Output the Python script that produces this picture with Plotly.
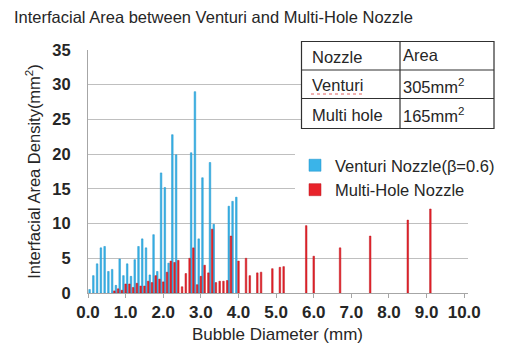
import plotly.graph_objects as go

# Bin diameters (mm) and densities
venturi_d = [0.0, 0.1, 0.2, 0.3, 0.4, 0.5, 0.6, 0.7, 0.8, 0.9,
             1.0, 1.1, 1.2, 1.3, 1.4, 1.5, 1.6, 1.7, 1.8, 1.9,
             2.0, 2.1, 2.2, 2.3, 2.7, 2.8, 2.9, 3.0, 3.2, 3.3,
             3.7, 3.8, 3.9]
venturi_v = [0.5, 2.5, 4.2, 6.5, 6.7, 3.1, 3.4, 1.1, 4.9, 2.5,
             4.2, 2.4, 4.8, 6.7, 7.8, 6.5, 2.6, 8.4, 3.1, 17.3,
             15.2, 4.3, 22.8, 19.9, 20.2, 29.0, 7.8, 16.6, 18.8, 9.9,
             12.5, 13.2, 13.8]

multi_d = [0.7, 0.8, 0.9, 1.0, 1.1, 1.2, 1.3, 1.4, 1.5, 1.6,
           1.7, 1.8, 1.9, 2.0, 2.1, 2.2, 2.3, 2.4, 2.5, 2.6,
           2.7, 2.8, 2.9, 3.0, 3.1, 3.2, 3.3, 3.4, 3.5, 3.6,
           3.7, 3.8, 4.0, 4.2, 4.3, 4.5, 4.6, 4.9, 5.1, 5.2,
           5.8, 6.0, 6.7, 7.5, 8.5, 9.1]
multi_v = [0.3, 0.6, 0.4, 1.3, 1.3, 0.8, 1.4, 1.0, 1.0, 1.7,
           1.5, 2.5, 2.0, 1.6, 3.0, 4.6, 4.4, 4.7, 0.9, 2.8,
           5.0, 6.5, 1.2, 2.4, 4.0, 2.9, 9.2, 1.5, 1.7, 1.7,
           1.8, 8.2, 4.6, 5.0, 2.5, 2.9, 3.0, 3.5, 3.7, 3.8,
           9.7, 5.3, 6.5, 8.2, 10.5, 12.1]

x_ticks = [0, 1, 2, 3, 4, 5, 6, 7, 8, 9, 10]
x_tick_labels = ["0.0", "1.0", "2.0", "3.0", "4.0", "5.0", "6.0", "7.0", "8.0", "9.0", "10.0"]
y_ticks = [0, 5, 10, 15, 20, 25, 30, 35]

table_rows = [["Nozzle", "Area"],
              ["Venturi", "305mm<sup>2</sup>"],
              ["Multi hole", "165mm<sup>2</sup>"]]

FONT = "Liberation Sans, Arial, sans-serif"
TXT = "#262626"

fig = go.Figure()
fig.add_trace(go.Bar(
    x=venturi_d, y=venturi_v, name="Venturi Nozzle(β=0.6)",
    width=0.042, offset=0.021,
    marker=dict(color="#3AB4E9", line=dict(color="#1E93C8", width=0.5)),
))
fig.add_trace(go.Bar(
    x=multi_d, y=multi_v, name="Multi-Hole Nozzle",
    width=0.042, offset=-0.021,
    marker=dict(color="#E8232B", line=dict(color="#B8141C", width=0.5)),
))

W, H, L, T = 380, 243, 88, 50
def px(xp):
    return (xp - L) / W
def py(yp):
    return 1 - (yp - T) / H

fig.update_layout(
    width=509, height=344,
    margin=dict(l=88, r=41, t=50, b=51, autoexpand=False),
    paper_bgcolor="white", plot_bgcolor="white",
    barmode="overlay",
    font=dict(family=FONT, color=TXT),
    showlegend=True,
    legend=dict(
        x=px(295), y=py(148), xanchor="left", yanchor="top",
        bgcolor="white", font=dict(size=16.5, color=TXT),
        tracegroupgap=0, itemwidth=30,
    ),
    xaxis=dict(
        range=[0, 10.1], tickvals=x_ticks, ticktext=x_tick_labels,
        showgrid=False, zeroline=False, automargin=False,
        showline=True, linecolor="#A6A6A6", linewidth=1,
        ticks="outside", ticklen=4, tickcolor="#A6A6A6",
        ticklabelstandoff=0,
        tickfont=dict(size=17, family=FONT, color=TXT, weight="bold"),
    ),
    yaxis=dict(
        range=[0, 35], tickvals=y_ticks,
        showgrid=True, gridcolor="#BFBFBF", gridwidth=1, automargin=False,
        zeroline=False, showline=True, linecolor="#A6A6A6", linewidth=1,
        ticks="", ticklabelstandoff=13,
        tickfont=dict(size=16.5, family=FONT, color=TXT, weight="bold"),
        title=dict(text="Interfacial Area Density(mm<sup>2</sup>)", font=dict(size=16.5, color=TXT), standoff=7),
    ),
)

# Title
fig.add_annotation(
    text="Interfacial Area between Venturi and Multi-Hole Nozzle",
    xref="paper", yref="paper", x=-0.2, y=1.0, xanchor="left", yanchor="middle",
    yshift=33, showarrow=False, font=dict(size=16.5, color=TXT),
)
# X axis title
fig.add_annotation(
    text="Bubble Diameter (mm)",
    xref="paper", yref="paper", x=px(277), y=py(334), xanchor="center", yanchor="middle",
    showarrow=False, font=dict(size=17, color=TXT),
)

# Info table
tx0, tx1, tcol = 301.5, 494, 400
row_y = [41.5, 70, 98.5, 128.5]
fig.add_shape(type="rect", xref="paper", yref="paper",
              x0=px(tx0), x1=px(tx1), y0=py(row_y[-1]), y1=py(row_y[0]),
              fillcolor="white", line=dict(color="#303030", width=1.2), layer="above")
for yy in row_y[1:-1]:
    fig.add_shape(type="line", xref="paper", yref="paper",
                  x0=px(tx0), x1=px(tx1), y0=py(yy), y1=py(yy),
                  line=dict(color="#303030", width=1.2), layer="above")
fig.add_shape(type="line", xref="paper", yref="paper",
              x0=px(tcol), x1=px(tcol), y0=py(row_y[-1]), y1=py(row_y[0]),
              line=dict(color="#303030", width=1.2), layer="above")
for r, (c1, c2) in enumerate(table_rows):
    yc = (row_y[r] + row_y[r + 1]) / 2
    fig.add_annotation(text=c1, xref="paper", yref="paper", x=px(310), y=py(yc + 1),
                       xanchor="left", yanchor="middle", showarrow=False,
                       font=dict(size=16.5, color=TXT))
    fig.add_annotation(text=c2, xref="paper", yref="paper", x=px(401), y=py(yc + (-1 if r == 0 else 2)),
                       xanchor="left", yanchor="middle", showarrow=False,
                       font=dict(size=16.5, color=TXT))
# spell-check squiggle under "Venturi"
fig.add_shape(type="line", xref="paper", yref="paper",
              x0=px(311), x1=px(364), y0=py(94), y1=py(94),
              line=dict(color="#E06060", width=1, dash="dot"), layer="above")

fig.write_html("out.html")
